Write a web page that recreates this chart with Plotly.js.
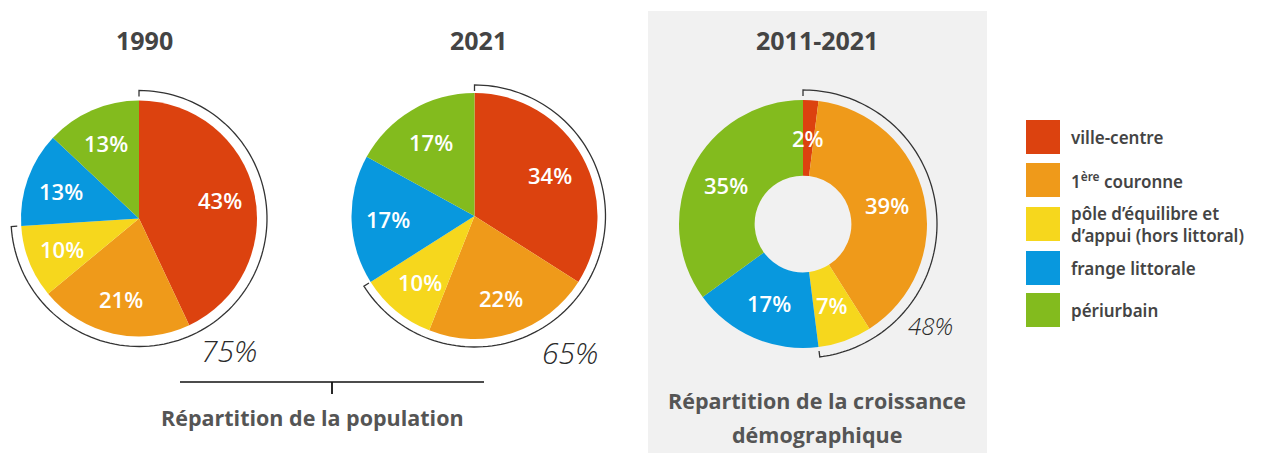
<!DOCTYPE html>
<html>
<head>
<meta charset="utf-8">
<script src="https://cdn.plot.ly/plotly-3.0.1.min.js"></script>
<style>html,body{margin:0;padding:0;background:#fff;}#chart{width:1274px;height:453px;}</style>
</head>
<body>
<div id="chart"></div>
<script>
// ---- data ----
const categories = ['ville-centre', '1<sup>ère</sup> couronne', 'pôle d’équilibre et<br>d’appui (hors littoral)', 'frange littorale', 'périurbain'];
const pop1990 = [43, 21, 10, 13, 13];
const pop2021 = [34, 22, 10, 17, 17];
const growth20112021 = [2, 39, 7, 17, 35];
const chartTitles = ['1990', '2021', '2011-2021'];
const arcLabels = ['75%', '65%', '48%'];
const colors = ['#dc420f', '#ef9a1a', '#f6d71d', '#0898de', '#83bb1e'];
const bottomLabel1 = ['Répartition de la population'];
const bottomLabel2 = ['Répartition de la croissance', 'démographique'];

// ---- layout geometry (pixels) ----
const W = 1274, H = 453;
const X = px => px / W;
const Y = py => 1 - py / H;
const pies = [
  {cx: 139, cy: 218.5, r: 118, arcR: 128, hole: 0, values: pop1990, title: {x: 144, y: 40}, lab: {x: 229, y: 350, size: 30}},
  {cx: 474.5, cy: 216, r: 123, arcR: 131, hole: 0, values: pop2021, title: {x: 478, y: 40}, lab: {x: 570, y: 352, size: 30}},
  {cx: 803, cy: 224, r: 124, arcR: 134, hole: 0.39, values: growth20112021, title: {x: 817, y: 40}, lab: {x: 930, y: 325, size: 24}}
];

const traces = pies.map(p => ({
  type: 'pie',
  values: p.values,
  labels: categories,
  sort: false,
  direction: 'clockwise',
  rotation: 0,
  hole: p.hole,
  marker: {colors: colors, line: {width: 0}},
  textinfo: 'none',
  hoverinfo: 'none',
  domain: {x: [X(p.cx - p.r), X(p.cx + p.r)], y: [Y(p.cy + p.r), Y(p.cy - p.r)]}
}));

const shapes = [];
const annotations = [];

// grey panel
shapes.push({type: 'rect', xref: 'paper', yref: 'paper', x0: X(648), x1: X(987), y0: Y(453), y1: Y(11),
  fillcolor: '#f1f1f1', line: {width: 0}, layer: 'below'});

pies.forEach((p, i) => {
  const total = p.values.reduce((a, b) => a + b, 0);
  // slice value labels, placed along each slice's mid-angle
  const labR = p.hole > 0 ? p.r * (1 + p.hole) / 2 : p.r * 0.7;
  let cum = 0;
  p.values.forEach(v => {
    const mid = 2 * Math.PI * (cum + v / 2) / total;
    cum += v;
    annotations.push({xref: 'paper', yref: 'paper',
      x: X(p.cx + labR * Math.sin(mid)), y: Y(p.cy - labR * Math.cos(mid)),
      text: v + '%', showarrow: false, xanchor: 'center', yanchor: 'middle',
      font: {family: 'Open Sans', size: 22, color: '#ffffff', weight: 600}});
  });

  // arc covering the first three categories
  const frac = (p.values[0] + p.values[1] + p.values[2]) / total;
  const n = 120;
  const pt = (R, t) => [X(p.cx + R * Math.sin(t)), Y(p.cy - R * Math.cos(t))];
  let path = '';
  const s0 = pt(p.arcR - 6, 0);
  path += 'M' + s0[0] + ',' + s0[1];
  for (let k = 0; k <= n; k++) {
    const t = 2 * Math.PI * frac * k / n;
    const q = pt(p.arcR, t);
    path += ' L' + q[0] + ',' + q[1];
  }
  const e0 = pt(p.arcR - 6, 2 * Math.PI * frac);
  path += ' L' + e0[0] + ',' + e0[1];
  shapes.push({type: 'path', xref: 'paper', yref: 'paper', path: path, line: {color: '#333', width: 1.3}});

  annotations.push({xref: 'paper', yref: 'paper', x: X(p.lab.x), y: Y(p.lab.y), text: '<i>' + arcLabels[i] + '</i>',
    showarrow: false, xanchor: 'center', yanchor: 'middle',
    font: {family: 'Open Sans', size: p.lab.size, color: '#2a2a2a', weight: 300}});

  annotations.push({xref: 'paper', yref: 'paper', x: X(p.title.x), y: Y(p.title.y), text: '<b>' + chartTitles[i] + '</b>',
    showarrow: false, xanchor: 'center', yanchor: 'middle',
    font: {family: 'Open Sans', size: 25, color: '#444'}});
});

// bracket under first two pies
shapes.push({type: 'line', xref: 'paper', yref: 'paper', x0: X(180), x1: X(484), y0: Y(382), y1: Y(382), line: {color: '#111', width: 1.5}});
shapes.push({type: 'line', xref: 'paper', yref: 'paper', x0: X(332), x1: X(332), y0: Y(382), y1: Y(394), line: {color: '#111', width: 1.8}});

annotations.push({xref: 'paper', yref: 'paper', x: X(312), y: Y(417), text: '<b>' + bottomLabel1[0] + '</b>',
  showarrow: false, xanchor: 'center', yanchor: 'middle', font: {family: 'Open Sans', size: 21.5, color: '#555'}});
[400, 434].forEach((yy, k) => {
  annotations.push({xref: 'paper', yref: 'paper', x: X(817), y: Y(yy), text: '<b>' + bottomLabel2[k] + '</b>',
    showarrow: false, xanchor: 'center', yanchor: 'middle', font: {family: 'Open Sans', size: 21.5, color: '#555'}});
});

// legend
const legendRows = [137, 180, 224, 268, 310];
categories.forEach((c, i) => {
  const yc = legendRows[i];
  shapes.push({type: 'rect', xref: 'paper', yref: 'paper', x0: X(1026), x1: X(1060), y0: Y(yc + 17), y1: Y(yc - 17),
    fillcolor: colors[i], line: {width: 0}});
  annotations.push({xref: 'paper', yref: 'paper', x: X(1069), y: Y(yc), text: c, align: 'left',
    showarrow: false, xanchor: 'left', yanchor: 'middle', font: {family: 'Noto Sans', size: 17, color: '#444', weight: 600}});
});

const layout = {
  width: W, height: H,
  margin: {l: 0, r: 0, t: 0, b: 0},
  paper_bgcolor: '#ffffff',
  showlegend: false,
  shapes: shapes,
  annotations: annotations
};

Plotly.newPlot('chart', traces, layout, {displayModeBar: false, staticPlot: true});
</script>
</body>
</html>
